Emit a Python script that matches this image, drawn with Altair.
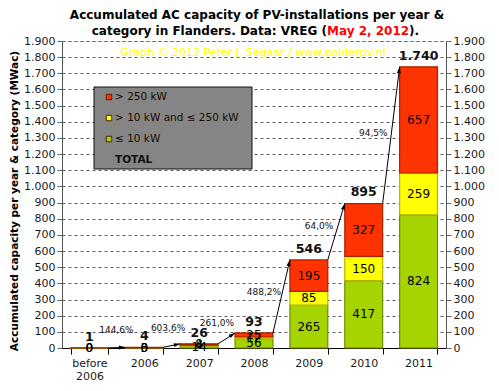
import math
import altair as alt
import pandas as pd

# ---------------- data ----------------
categories = ["before 2006", "2006", "2007", "2008", "2009", "2010", "2011"]
upto10 = [0.48, 0.4, 14, 56, 265, 417, 824]
mid10_250 = [0.48, 0.3, 4, 12, 85, 150, 259]
over250 = [0.49, 3.0, 8, 25, 195, 327, 657]
totals = [1, 4, 26, 93, 546, 895, 1740]
growth_pct = [144.6, 603.6, 261.0, 488.2, 64.0, 94.5]
series_names = ["≤ 10 kW", "> 10 kW and ≤ 250 kW", "> 250 kW"]
series_fill = ["#A6D400", "#FFFF00", "#FF3300"]
series_edge = ["#6E8C00", "#B5B500", "#A82000"]
legend_labels = ["> 250 kW", "> 10 kW and ≤ 250 kW", "≤ 10 kW", "TOTAL"]
legend_colors = ["#FF3300", "#FFFF00", "#A6D400", "transparent"]
y_ticks = list(range(0, 2000, 100))

W, H = 384, 307
YMAX = 1900
BAND_PAD = 0.31
FONT = "DejaVu Sans"


def dotfmt(v):
    return f"{round(v):,}".replace(",", ".")


# ---------------- tables built from the lists ----------------
seg_rows = []
for i, c in enumerate(categories):
    lo = 0.0
    for k, vals in enumerate([upto10, mid10_250, over250]):
        v = vals[i]
        seg_rows.append(dict(cat=c, series=series_names[k], lo=lo, hi=lo + v,
                             mid=lo + v / 2, lab=dotfmt(v)))
        lo += v
seg = pd.DataFrame(seg_rows)
tot = pd.DataFrame(dict(cat=categories, tot=totals, lab=[dotfmt(t) for t in totals]))

step = W / len(categories)
pxu = H / YMAX
hw = (1 - BAND_PAD) / 2
arr_rows = []
for i, p in enumerate(growth_pct):
    x0, y0 = i + hw, totals[i]
    x1, y1 = i + 1 - hw, totals[i + 1]
    dxp = (x1 - x0) * step
    dyp = -(y1 - y0) * pxu
    L = math.hypot(dxp, dyp)
    ux, uy = dxp / L, dyp / L
    ang = math.degrees(math.atan2(dxp, -dyp)) % 360
    off = 18
    lx = (x0 + x1) / 2 + uy * off / step
    ly = (y0 + y1) / 2 + ux * off / pxu
    arr_rows.append(dict(x0=x0, y0=y0, x1=x1, y1=y1, ang=ang, lx=lx, ly=ly,
                         lab=f"{p:.1f}".replace(".", ",") + "%"))
arr = pd.DataFrame(arr_rows)

leg = pd.DataFrame(dict(lab=legend_labels, col=legend_colors,
                        py=[56 + 21 * i for i in range(len(legend_labels))],
                        bold=[l == "TOTAL" for l in legend_labels]))
one = pd.DataFrame({"a": [0]})

# ---------------- encodings ----------------
yscale = alt.Scale(domain=[0, YMAX], nice=False, zero=True)
lab_expr = "replace(format(datum.value, ','), ',', '.')"


def X():
    return alt.X("cat:N", sort=categories,
                 scale=alt.Scale(paddingInner=BAND_PAD, paddingOuter=BAND_PAD / 2),
                 axis=alt.Axis(title=None, tickBand="extent", labelAngle=0,
                               labelExpr="datum.label == 'before 2006' ? ['before', '2006'] : datum.label",
                               domainColor="#000", tickColor="#000", tickSize=6,
                               labelFontSize=11, labelColor="#1a1a1a", labelPadding=3,
                               labelLineHeight=13, grid=False))


def YL(field):
    return alt.Y(field, scale=yscale,
                 axis=alt.Axis(values=y_ticks, labelExpr=lab_expr,
                               title="Accumulated capacity per year & category (MWac)",
                               titleFontSize=10.5, titleFontWeight="bold", titleColor="#000",
                               titleX=-48, titleY=H / 2 + 6, titleBaseline="middle",
                               labelFontSize=11, labelColor="#1a1a1a", labelPadding=2,
                               tickSize=5, tickColor="#666", domainColor="#555",
                               grid=True, gridDash=[3, 3], gridColor="#5e5e5e"))


def YR(field):
    return alt.Y(field, scale=yscale,
                 axis=alt.Axis(values=y_ticks, labelExpr=lab_expr, orient="right", title=None,
                               labelFontSize=11, labelColor="#1a1a1a", labelPadding=2,
                               tickSize=5, tickColor="#666", domainColor="#555", grid=False))


XQ = lambda f: alt.X(f, scale=alt.Scale(domain=[-0.5, len(categories) - 0.5], nice=False, zero=False), axis=None)

bars = alt.Chart(seg).mark_bar(strokeWidth=1.2).encode(
    x=X(), y=YL("lo:Q"), y2="hi:Q",
    color=alt.Color("series:N", scale=alt.Scale(domain=series_names, range=series_fill), legend=None),
    stroke=alt.Stroke("series:N", scale=alt.Scale(domain=series_names, range=series_edge), legend=None),
)
seg_text = alt.Chart(seg).mark_text(fontSize=12, color="#000", baseline="middle", font=FONT).encode(
    x=X(), y=YL("mid:Q"), text="lab:N")
tot_text = alt.Chart(tot).mark_text(fontSize=12.5, fontWeight="bold", color="#111", baseline="bottom",
                                    dy=-4, font=FONT).encode(x=X(), y=YL("tot:Q"), text="lab:N")
base = alt.layer(bars, seg_text, tot_text)

rules = alt.Chart(arr).mark_rule(color="#000", strokeWidth=1).encode(
    x=XQ("x0:Q"), x2="x1:Q", y=YR("y0:Q"), y2="y1:Q")
heads = alt.Chart(arr).mark_point(shape="M0,0L-0.6,1.9L0.6,1.9Z", filled=True, color="#000",
                                  opacity=1, size=45).encode(
    x=XQ("x1:Q"), y=YR("y1:Q"), angle=alt.Angle("ang:Q", scale=None))
pct = alt.Chart(arr).mark_text(fontSize=9, color="#111", baseline="middle", font=FONT).encode(
    x=XQ("lx:Q"), y=YR("ly:Q"), text="lab:N")
overlay = alt.layer(rules, heads, pct)

# legend box and entries
leg_box = alt.Chart(one).mark_rect(fill="#858585", stroke="#111", strokeWidth=1).encode(
    x=alt.value(32), x2=alt.value(190), y=alt.value(46), y2=alt.value(128))
leg_sym = alt.Chart(leg).transform_filter("!datum.bold").mark_square(
    size=30, strokeWidth=1, stroke="#552200", opacity=1).encode(
    x=alt.value(47), y=alt.Y("py:Q", scale=None),
    fill=alt.Fill("col:N", scale=None))
leg_txt = alt.Chart(leg).transform_filter("!datum.bold").mark_text(
    align="left", baseline="middle", fontSize=10.5, color="#1a0d00", font=FONT).encode(
    x=alt.value(53), y=alt.Y("py:Q", scale=None), text="lab:N")
leg_tot = alt.Chart(leg).transform_filter("datum.bold").mark_text(
    align="left", baseline="middle", fontSize=10.5, fontWeight="bold", color="#111", font=FONT).encode(
    x=alt.value(53), y=alt.Y("py:Q", scale=None), text="lab:N")

copyright_ = alt.Chart(one).mark_text(text="Graph © 2012 Peter J. Segaar / www.polderpv.nl", fontSize=11,
                                      color="#FFFF00", font=FONT).encode(x=alt.value(191), y=alt.value(12))
t1 = alt.Chart(one).mark_text(text="Accumulated  AC capacity of PV-installations  per year &", fontSize=12,
                              fontWeight="bold", color="#000", font=FONT).encode(x=alt.value(195), y=alt.value(-26))
t2a = alt.Chart(one).mark_text(text="category in Flanders. Data: VREG (", fontSize=12, fontWeight="bold",
                               align="right", color="#000", font=FONT).encode(x=alt.value(265), y=alt.value(-10))
t2b = alt.Chart(one).mark_text(text="May 2, 2012", fontSize=12, fontWeight="bold", align="left",
                               color="#FF0000", font=FONT).encode(x=alt.value(265), y=alt.value(-10))
t2c = alt.Chart(one).mark_text(text=").", fontSize=12, fontWeight="bold", align="left",
                               color="#000", font=FONT).encode(x=alt.value(347), y=alt.value(-10))
decor = alt.layer(leg_box, leg_sym, leg_txt, leg_tot, copyright_, t1, t2a, t2b, t2c)

chart = alt.layer(base, overlay, decor).resolve_scale(x="independent", y="independent").properties(
    width=W, height=H,
    padding={"left": 54, "top": 33, "right": 44, "bottom": 34},
    autosize=alt.AutoSizeParams(type="none"),
    background="#FFFFFF",
).configure_view(fill="#808080", stroke="#222", strokeWidth=1).configure(font=FONT).configure_text(font=FONT)

chart.save("out.html", embed_options={"renderer": "svg", "actions": False})
